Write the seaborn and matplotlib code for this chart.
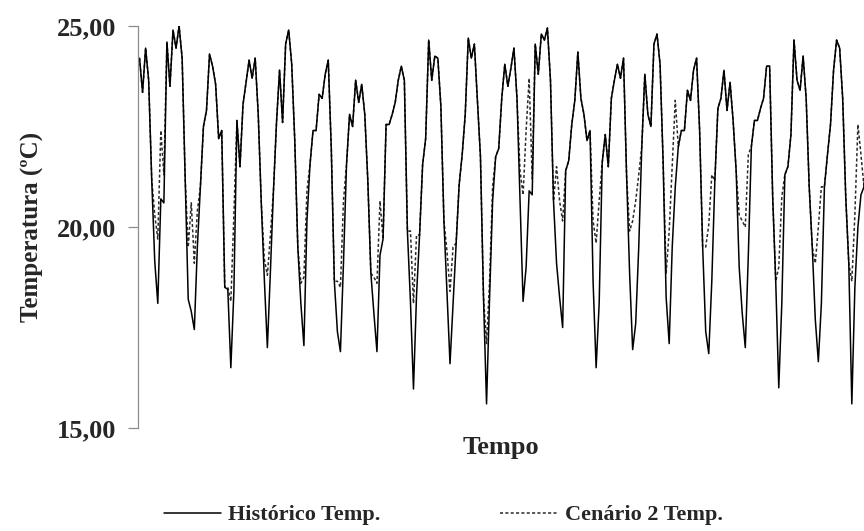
import matplotlib
matplotlib.use("Agg")
import matplotlib.pyplot as plt
import seaborn as sns
import pandas as pd
import numpy as np

# Monthly mean temperature (ºC), twenty years, one list per year
historico_anos = [
    [24.2, 23.35, 24.45, 23.65, 21.2, 19.15, 18.1, 20.7, 20.6, 24.6, 23.5, 24.9],
    [24.45, 25.0, 24.2, 21.2, 18.2, 17.9, 17.45, 19.5, 21.0, 22.5, 22.9, 24.3],
    [24.0, 23.55, 22.2, 22.4, 18.5, 18.45, 16.5, 18.4, 22.65, 21.5, 23.05, 23.6],
    [24.15, 23.7, 24.2, 22.8, 20.6, 18.7, 17.0, 18.9, 20.9, 22.6, 23.9, 22.6],
    [24.55, 24.9, 24.05, 22.15, 19.5, 18.1, 17.05, 20.15, 21.55, 22.4, 22.4, 23.3],
    [23.2, 23.8, 24.15, 21.95, 18.65, 17.4, 16.9, 19.1, 21.55, 22.8, 22.5, 23.65],
    [23.1, 23.55, 22.8, 21.15, 18.85, 17.85, 16.9, 19.3, 19.7, 22.55, 22.55, 22.8],
    [23.1, 23.65, 24.0, 23.65, 19.9, 18.15, 15.97, 18.3, 19.8, 21.55, 22.2, 24.65],
    [23.65, 24.25, 24.2, 23.0, 20.15, 18.35, 16.6, 18.1, 19.6, 21.05, 21.8, 22.8],
    [24.7, 24.2, 24.55, 23.15, 21.75, 18.25, 15.6, 18.25, 20.65, 21.75, 21.95, 23.2],
    [24.05, 23.5, 23.95, 24.45, 23.2, 20.65, 18.15, 19.0, 20.9, 20.8, 24.55, 23.8],
    [24.8, 24.65, 24.95, 23.65, 20.65, 19.1, 18.25, 17.5, 21.4, 21.65, 22.55, 23.15],
    [24.35, 23.2, 22.8, 22.15, 22.4, 18.65, 16.5, 18.1, 21.6, 22.3, 21.5, 23.2],
    [23.65, 24.05, 23.7, 24.2, 21.3, 18.85, 16.95, 17.6, 19.5, 22.0, 23.8, 22.8],
    [22.5, 24.55, 24.8, 24.05, 21.65, 18.25, 17.1, 19.5, 21.0, 22.0, 22.4, 22.4],
    [23.4, 23.15, 23.9, 24.2, 22.4, 19.5, 17.4, 16.85, 18.65, 21.15, 22.95, 23.2],
    [23.9, 22.9, 23.6, 22.65, 21.4, 19.0, 17.85, 17.0, 19.3, 22.0, 22.65, 22.65],
    [22.95, 23.2, 24.0, 24.0, 20.75, 18.65, 16.0, 18.1, 21.3, 21.5, 22.3, 24.65],
    [23.65, 23.4, 24.25, 23.2, 21.0, 19.5, 17.7, 16.65, 18.1, 21.0, 21.8, 22.55],
    [23.9, 24.65, 24.45, 23.2, 20.75, 19.1, 15.6, 18.5, 20.0, 20.8, 21.0, 22.0],
]

cenario2_anos = [
    [24.2, 23.35, 24.45, 23.65, 21.2, 20.3, 19.7, 22.4, 21.3, 24.6, 23.5, 24.9],
    [24.45, 25.0, 24.2, 21.2, 19.5, 20.6, 19.1, 20.4, 21.0, 22.5, 22.9, 24.3],
    [24.0, 23.55, 22.2, 22.4, 18.5, 18.5, 18.15, 20.3, 22.65, 21.5, 23.05, 23.6],
    [24.15, 23.7, 24.2, 22.8, 20.6, 19.2, 18.8, 19.8, 20.9, 22.6, 23.9, 22.6],
    [24.55, 24.9, 24.05, 22.15, 19.5, 18.6, 18.75, 20.9, 21.55, 22.4, 22.4, 23.3],
    [23.2, 23.8, 24.15, 21.95, 18.65, 18.65, 18.5, 20.65, 21.55, 22.8, 22.5, 23.65],
    [23.1, 23.55, 22.8, 21.15, 18.85, 18.75, 18.6, 20.65, 19.7, 22.55, 22.55, 22.8],
    [23.1, 23.65, 24.0, 23.65, 19.9, 19.9, 18.1, 19.8, 19.8, 21.55, 22.2, 24.65],
    [23.65, 24.25, 24.2, 23.0, 20.15, 19.4, 18.4, 19.5, 19.6, 21.05, 21.8, 22.8],
    [24.7, 24.2, 24.55, 23.15, 21.75, 18.25, 17.1, 18.65, 21.0, 21.75, 21.95, 23.2],
    [24.05, 23.5, 23.95, 24.45, 23.2, 21.4, 20.8, 22.4, 23.7, 21.2, 24.55, 23.8],
    [24.8, 24.65, 24.95, 23.65, 20.65, 21.5, 20.65, 20.15, 21.4, 21.65, 22.55, 23.15],
    [24.35, 23.2, 22.8, 22.15, 22.4, 20.15, 19.6, 20.65, 21.6, 22.3, 21.5, 23.2],
    [23.65, 24.05, 23.7, 24.2, 21.3, 19.9, 20.15, 20.65, 21.3, 22.0, 23.8, 22.8],
    [22.5, 24.55, 24.8, 24.05, 21.65, 18.85, 19.9, 21.55, 23.15, 22.0, 22.4, 22.4],
    [23.4, 23.15, 23.9, 24.2, 22.4, 19.5, 19.5, 20.05, 21.3, 21.15, 22.95, 23.2],
    [23.9, 22.9, 23.6, 22.65, 21.4, 20.3, 20.15, 20.0, 21.8, 22.0, 22.65, 22.65],
    [22.95, 23.2, 24.0, 24.0, 20.75, 18.65, 19.0, 20.75, 21.3, 21.5, 22.3, 24.65],
    [23.65, 23.4, 24.25, 23.2, 21.0, 19.5, 19.1, 20.0, 21.0, 21.0, 21.8, 22.55],
    [23.9, 24.65, 24.45, 23.2, 20.75, 19.1, 18.65, 20.3, 22.55, 21.8, 21.0, 22.0],
]

series_labels = ["Cenário 2 Temp.", "Histórico Temp."]
y_ticks = [15, 20, 25]
y_tick_labels = ["15,00", "20,00", "25,00"]

historico = [v for ano in historico_anos for v in ano]
cenario2 = [v for ano in cenario2_anos for v in ano]
meses = list(range(len(historico)))

df = pd.DataFrame({
    "mes": meses * 2,
    "temp": cenario2 + historico,
    "serie": [series_labels[0]] * len(cenario2) + [series_labels[1]] * len(historico),
})

sns.set_theme(style="white")
plt.rcParams["font.family"] = ["Liberation Serif", "DejaVu Serif"]
plt.rcParams["font.weight"] = "bold"

fig = plt.figure(figsize=(8.64, 5.31), dpi=100)
ax = fig.add_axes([138 / 864, 1 - 428 / 531, 1 - 138 / 864, (428 - 26) / 531])

sns.lineplot(
    data=df, x="mes", y="temp", hue="serie", style="serie",
    hue_order=series_labels, style_order=series_labels,
    palette={series_labels[0]: "#2a2a2a", series_labels[1]: "#000000"},
    dashes={series_labels[0]: (2.0, 1.5), series_labels[1]: ""},
    linewidth=1.1, ax=ax, legend=True,
)

ax.set_xlim(-0.5, 238.0)
ax.set_ylim(15, 25)
ax.set_xticks([])
ax.set_yticks(y_ticks)
ax.set_yticklabels(y_tick_labels, fontsize=19, fontweight="bold")
ax.tick_params(axis="y", direction="out", length=7, width=0.9, color="#8c8c8c", pad=9, left=True)
for side in ["top", "right", "bottom"]:
    ax.spines[side].set_visible(False)
ax.spines["left"].set_color("#8c8c8c")
ax.spines["left"].set_linewidth(0.9)

ax.set_xlabel("Tempo", fontsize=19, fontweight="bold", labelpad=6)
ax.set_ylabel("Temperatura (ºC)", fontsize=18, fontweight="bold", labelpad=9)

# Legend below the plot: historical first, scenario second
handles, labels = ax.get_legend_handles_labels()
order = [labels.index(series_labels[1]), labels.index(series_labels[0])]
ax.get_legend().remove()
fig.legend([handles[i] for i in order], [labels[i] for i in order],
           loc="center", bbox_to_anchor=(0.513, 0.03), ncol=2, frameon=False,
           prop={"size": 16, "weight": "bold"}, handlelength=2.6,
           columnspacing=5.4, handletextpad=0.3)

fig.savefig("out.png", dpi=100)
